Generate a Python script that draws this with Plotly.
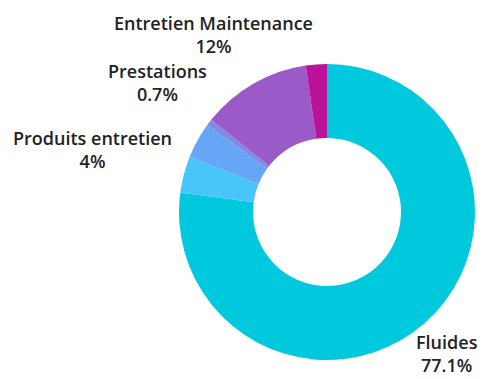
import math
import plotly.graph_objects as go

labels = ["Fluides", "Produits entretien", "Autres", "Prestations", "Entretien Maintenance", "Divers"]
values = [77.1, 4.0, 3.9, 0.7, 12.0, 2.3]
colors = ["#00C9DD", "#48C5FB", "#65A6F6", "#7F8AE6", "#9A5AC8", "#BA139A"]
shown = [True, True, False, True, True, False]

VIEW_W, VIEW_H = 488, 379
OFF = 8                             # page body margin in the browser
W, H = VIEW_W - OFF, VIEW_H - OFF   # figure size
CX, CY, R = 327, 212, 148           # pie centre and outer radius (screen px)
LABEL_GAP = 158                     # distance from centre to nearest label edge (px)
FONT_SIZE = 18
CHAR_W = 9.4                        # approx. glyph width (px)
LINE_H = 23                         # line height (px)
EDGE_TOP = 11                       # keep labels inside the canvas
EDGE_X = 8
EDGE_BOTTOM = 3


def to_paper(x, y):
    return (x - OFF) / W, 1 - (y - OFF) / H


x0, y1 = to_paper(CX - R, CY - R)
x1, y0 = to_paper(CX + R, CY + R)

fig = go.Figure(go.Pie(
    labels=labels,
    values=values,
    sort=False,
    direction="clockwise",
    rotation=0,
    hole=0.5,
    marker=dict(colors=colors, line=dict(width=0)),
    textinfo="none",
    hoverinfo="label+percent",
    showlegend=False,
    domain=dict(x=[x0, x1], y=[y0, y1]),
))


def fmt_pct(v):
    s = f"{v:.1f}"
    if s.endswith(".0"):
        s = s[:-2]
    return s + "%"


total = sum(values)
cum = 0.0
annotations = []
for lab, v, s in zip(labels, values, shown):
    mid = (cum + v / 2) / total * 2 * math.pi
    cum += v
    if not s:
        continue
    pct = v / total * 100
    text = f"{lab}<br>{fmt_pct(pct)}"
    ux, uy = math.sin(mid), -math.cos(mid)      # screen direction (y down)
    w = max(len(lab), len(fmt_pct(pct))) * CHAR_W
    h = 2 * LINE_H
    dist = LABEL_GAP + abs(ux) * w / 2 + abs(uy) * h / 2
    px, py = CX + ux * dist, CY + uy * dist
    px = min(max(px, EDGE_X + w / 2), VIEW_W - EDGE_X - w / 2)
    py = min(max(py, EDGE_TOP + h / 2), VIEW_H - EDGE_BOTTOM - h / 2)
    ax, ay = to_paper(px, py)
    annotations.append(dict(
        x=ax, y=ay, xref="paper", yref="paper",
        text=text, showarrow=False, xanchor="center", yanchor="middle",
        align="center",
        font=dict(family="Open Sans", size=FONT_SIZE, color="#222222", weight=600),
    ))

fig.update_layout(
    width=W, height=H,
    margin=dict(l=0, r=0, t=0, b=0),
    paper_bgcolor="white",
    plot_bgcolor="white",
    annotations=annotations,
)
fig.write_html("out.html")
